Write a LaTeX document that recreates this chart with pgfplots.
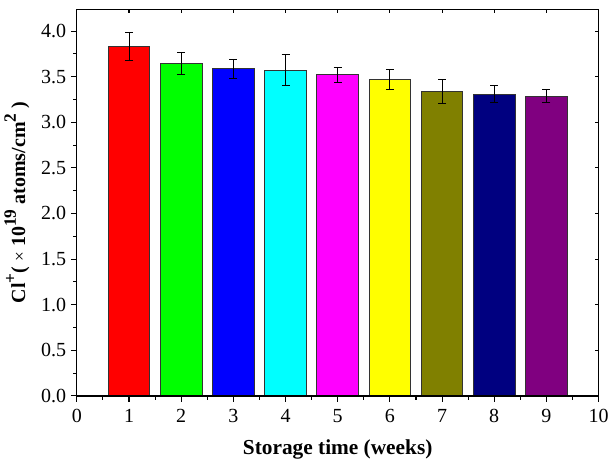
\documentclass[border=0pt]{standalone}
\usepackage{fontspec}
\setmainfont{Liberation Serif}
\usepackage{pgfplots}
\pgfplotsset{compat=1.18}

\newcommand{\sups}[1]{\raisebox{1.0ex}{\fontsize{13}{14}\selectfont #1}}

\begin{document}
\begin{tikzpicture}
\pgfplotsset{
  base/.style={
    scale only axis,
    width=391.5pt,height=290.25pt,
    xmin=0,xmax=10,ymin=0,ymax=4.24,
    xtick={0,...,10},ytick={0,0.5,...,4.0},
    minor x tick num=1,minor y tick num=1,
    /pgf/number format/assume math mode=true,
    tick label style={font=\fontsize{15}{17}\selectfont},
    label style={font=\fontsize{16}{18}\selectfont\bfseries},
    axis line style={line width=0.9pt},
    major tick style={line width=0.8pt,black},
    minor tick style={line width=0.8pt,black},
  }
}
\begin{axis}[base,
  xtick pos=left,ytick pos=left,tick align=outside,
  major tick length=4.5pt,minor tick length=2.8pt,
  yticklabel style={/pgf/number format/.cd,fixed,fixed zerofill,precision=1},
  xticklabel style={yshift=-2pt},
  xlabel={Storage time (weeks)},
  ylabel={Cl\sups{+}( {\mdseries\fontsize{13}{14}\selectfont ×} 10\sups{19} atoms/cm\sups{2} )},
  xlabel style={yshift=-6pt},
  ylabel style={yshift=2pt,font=\fontsize{15}{17}\selectfont\bfseries},
  ybar,bar width=0.8,bar shift=0pt,
  eb/.style={draw=black!80,line width=0.7pt,
    error bars/.cd,y dir=both,y explicit,
    error bar style={black,line width=0.7pt},
    error mark options={rotate=90,mark size=3pt,black,line width=0.7pt}},
]
\addplot[fill={rgb,255:red,255;green,0;blue,0},eb] coordinates {(1,3.83) +- (0,0.15)};
\addplot[fill={rgb,255:red,0;green,255;blue,0},eb] coordinates {(2,3.64) +- (0,0.12)};
\addplot[fill={rgb,255:red,0;green,0;blue,255},eb] coordinates {(3,3.585) +- (0,0.105)};
\addplot[fill={rgb,255:red,0;green,255;blue,255},eb] coordinates {(4,3.57) +- (0,0.17)};
\addplot[fill={rgb,255:red,255;green,0;blue,255},eb] coordinates {(5,3.52) +- (0,0.08)};
\addplot[fill={rgb,255:red,255;green,255;blue,0},eb] coordinates {(6,3.465) +- (0,0.11)};
\addplot[fill={rgb,255:red,128;green,128;blue,0},eb] coordinates {(7,3.34) +- (0,0.13)};
\addplot[fill={rgb,255:red,0;green,0;blue,128},eb] coordinates {(8,3.31) +- (0,0.09)};
\addplot[fill={rgb,255:red,128;green,0;blue,128},eb] coordinates {(9,3.285) +- (0,0.07)};
\end{axis}
\begin{axis}[base,
  xtick pos=right,ytick pos=right,tick align=inside,
  major tick length=3pt,minor tick length=0pt,
  xticklabels={},yticklabels={},
]
\end{axis}
\end{tikzpicture}
\end{document}
